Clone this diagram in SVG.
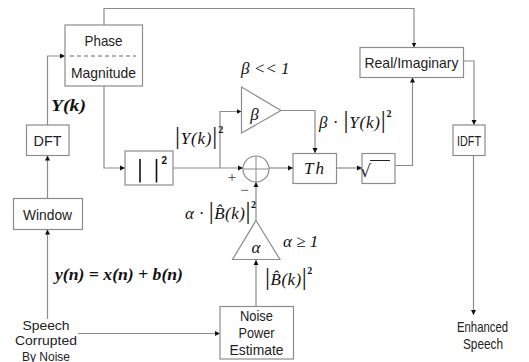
<svg xmlns="http://www.w3.org/2000/svg" width="529" height="362" viewBox="0 0 529 362">
<style>
.box{fill:#fff;stroke:#8c8c8c;stroke-width:1.2}
.ln{fill:none;stroke:#8c8c8c;stroke-width:1.2}
.t{font-family:"Liberation Sans",Arial,sans-serif;font-size:15px;fill:#222;text-anchor:middle}
.s{font-size:13.5px}
.o{font-size:14.5px}
.m{font-family:"Liberation Serif","Times New Roman",serif;font-style:italic;font-size:17px;fill:#111}
.mb{font-family:"Liberation Serif","Times New Roman",serif;font-style:italic;font-weight:bold;font-size:17px;fill:#111}
.bar{font-style:normal;font-weight:normal;font-size:25px}
.sup{font-family:"Liberation Serif",serif;font-style:normal;font-weight:bold;font-size:10px}
</style>
<defs>
<marker id="ah" markerWidth="6" markerHeight="6" refX="5" refY="3" orient="auto" markerUnits="userSpaceOnUse">
<path d="M0,0.5 L5,3 L0,5.5 Z" fill="#111"/>
</marker>
</defs>
<rect width="529" height="362" fill="#fff"/>
<g id="connectors" class="ln" marker-end="url(#ah)">
<path d="M104,25 V8.5 H414 V47.5"/>
<path d="M47.5,125 V56 H65"/>
<path d="M104,86 V168 H125"/>
<path d="M47.5,198.5 V155.5"/>
<path d="M47.5,319 V229.5"/>
<path d="M78,333.5 H220"/>
<path d="M256,306.5 V260"/>
<path d="M256,220.5 V182"/>
<path d="M173,168 H243"/>
<path d="M220,168 V111.5 H241.5"/>
<path d="M281,110.5 H315 V153"/>
<path d="M269,168 H293"/>
<path d="M337,168 H362"/>
<path d="M395,165.5 H412.5 V77.5"/>
<path d="M463.5,61 H474 V125"/>
<path d="M473.5,155.5 V315"/>
</g>
<g id="phase-magnitude">
<rect class="box" x="65" y="25" width="77.5" height="61"/>
<line x1="70" y1="56" x2="136" y2="56" stroke="#666" stroke-width="1" stroke-dasharray="4,3"/>
<text class="t" x="103.5" y="45.5" textLength="38" lengthAdjust="spacingAndGlyphs">Phase</text>
<text class="t" x="103.5" y="78" textLength="65" lengthAdjust="spacingAndGlyphs">Magnitude</text>
</g>
<g id="dft">
<rect class="box" x="26.5" y="125" width="42.5" height="30.5"/>
<text class="t" x="47.5" y="146" textLength="28" lengthAdjust="spacingAndGlyphs">DFT</text>
</g>
<g id="window">
<rect class="box" x="13.5" y="198.5" width="69" height="31"/>
<text class="t" x="47.5" y="219.5" textLength="49" lengthAdjust="spacingAndGlyphs">Window</text>
</g>
<g id="abs-square">
<rect class="box" x="125" y="151" width="48" height="34"/>
<line x1="140" y1="159" x2="140" y2="182.5" stroke="#111" stroke-width="1.6"/>
<line x1="156.5" y1="159" x2="156.5" y2="182.5" stroke="#111" stroke-width="1.6"/>
<text x="161.5" y="163.5" font-family="Liberation Sans,Arial,sans-serif" font-weight="bold" font-size="10" fill="#111">2</text>
</g>
<g id="beta-gain">
<polygon class="box" points="241.5,87 281,110.5 241.5,133"/>
<text class="m" x="254.5" y="119.5" font-size="26" text-anchor="middle">β</text>
<text class="m" x="241" y="74">β &lt;&lt; 1</text>
</g>
<g id="summer">
<circle cx="256" cy="169" r="13" fill="#fff" stroke="#8c8c8c" stroke-width="1.2"/>
<line x1="243" y1="169" x2="269" y2="169" stroke="#8c8c8c" stroke-width="1"/>
<line x1="256" y1="156" x2="256" y2="182" stroke="#8c8c8c" stroke-width="1"/>
<text x="232" y="182" font-family="Liberation Serif,serif" font-size="15" fill="#333" text-anchor="middle">+</text>
<text x="244.5" y="194.5" font-family="Liberation Serif,serif" font-size="15" fill="#333" text-anchor="middle">−</text>
</g>
<g id="th">
<rect class="box" x="293" y="153.5" width="43.5" height="30"/>
<text class="m" x="315" y="173.5" font-size="18" letter-spacing="2" text-anchor="middle">Th</text>
</g>
<g id="sqrt">
<rect class="box" x="362" y="153.5" width="33" height="30"/>
<text x="371" y="177" font-family="DejaVu Sans,sans-serif" font-size="17" fill="#222" text-anchor="end">√</text>
<line x1="370" y1="160.5" x2="390" y2="160.5" stroke="#222" stroke-width="1"/>
</g>
<g id="real-imag">
<rect class="box" x="360" y="47.5" width="103.5" height="30"/>
<text class="t" x="411.5" y="68" textLength="94" lengthAdjust="spacingAndGlyphs">Real/Imaginary</text>
</g>
<g id="idft">
<rect class="box" x="453" y="125" width="32" height="30.5"/>
<text class="t" x="469" y="146" font-size="14" textLength="24" lengthAdjust="spacingAndGlyphs">IDFT</text>
</g>
<g id="alpha-gain">
<polygon class="box" points="256,220.5 280,259.5 232.5,259.5"/>
<text class="m" x="256" y="253" font-size="24" text-anchor="middle">α</text>
<text class="m" x="283" y="247">α ≥ 1</text>
</g>
<g id="noise-power">
<rect class="box" x="220" y="306.5" width="73.5" height="52.5"/>
<text class="t" x="256.5" y="321" textLength="33" lengthAdjust="spacingAndGlyphs">Noise</text>
<text class="t" x="256.5" y="338" textLength="36" lengthAdjust="spacingAndGlyphs">Power</text>
<text class="t" x="256.5" y="354.5" textLength="54" lengthAdjust="spacingAndGlyphs">Estimate</text>
</g>
<g id="input">
<text class="t s" x="46" y="329.5" textLength="47" lengthAdjust="spacingAndGlyphs">Speech</text>
<text class="t s" x="46" y="345" textLength="62" lengthAdjust="spacingAndGlyphs">Corrupted</text>
<text class="t s" x="46" y="360.5" textLength="48" lengthAdjust="spacingAndGlyphs">By Noise</text>
</g>
<g id="output">
<text class="t o" x="482.5" y="332" textLength="51" lengthAdjust="spacingAndGlyphs">Enhanced</text>
<text class="t o" x="483" y="348.5" textLength="40" lengthAdjust="spacingAndGlyphs">Speech</text>
</g>
<g id="labels">
<text class="mb" x="51" y="111" font-size="17" textLength="35" lengthAdjust="spacingAndGlyphs">Y(k)</text>
<text class="m" x="175" y="144" letter-spacing="0.8"><tspan class="bar">|</tspan>Y(k)<tspan class="bar">|</tspan><tspan class="sup" dy="-11">2</tspan></text>
<text class="m" x="319" y="127.5" letter-spacing="0.8">β · <tspan class="bar">|</tspan>Y(k)<tspan class="bar">|</tspan><tspan class="sup" dy="-11">2</tspan></text>
<text class="m" x="185" y="219" letter-spacing="0.5">α · <tspan class="bar">|</tspan>B̂(k)<tspan class="bar">|</tspan><tspan class="sup" dy="-11">2</tspan></text>
<text class="m" x="265" y="284.5" letter-spacing="0.5"><tspan class="bar">|</tspan>B̂(k)<tspan class="bar">|</tspan><tspan class="sup" dy="-11">2</tspan></text>
<text class="mb" x="55" y="280" font-size="17" textLength="128" lengthAdjust="spacingAndGlyphs">y(n) = x(n) + b(n)</text>
</g>
</svg>
